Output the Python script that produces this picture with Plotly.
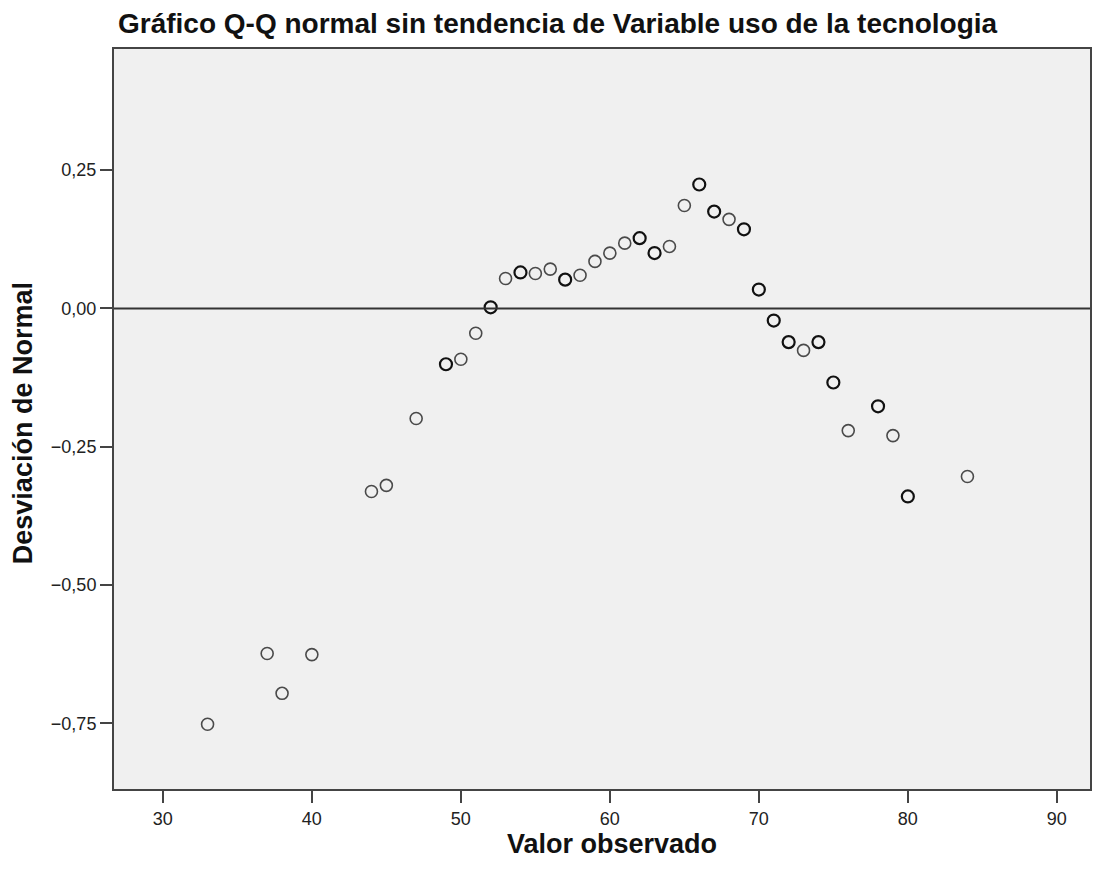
import plotly.graph_objects as go

valor_observado = [33, 37, 38, 40, 44, 45, 47, 49, 50, 51, 52, 53, 54, 55, 56, 57, 58, 59,
                   60, 61, 62, 63, 64, 65, 66, 67, 68, 69, 70, 71, 72, 73, 74, 75, 76, 78,
                   79, 80, 84]
desviacion = [-0.752, -0.624, -0.696, -0.626, -0.331, -0.320, -0.199, -0.101, -0.092,
              -0.045, 0.002, 0.054, 0.065, 0.063, 0.071, 0.052, 0.060, 0.085, 0.100,
              0.118, 0.127, 0.100, 0.112, 0.186, 0.224, 0.175, 0.161, 0.143, 0.034,
              -0.022, -0.061, -0.076, -0.061, -0.134, -0.221, -0.177, -0.230, -0.340,
              -0.304]
# values that appear several times in the sample (drawn darker in the reference)
repetidos = [49, 52, 54, 57, 62, 63, 66, 67, 69, 70, 71, 72, 74, 75, 78, 80]

x_ticks = [30, 40, 50, 60, 70, 80, 90]
y_ticks = [-0.75, -0.50, -0.25, 0.00, 0.25]

line_colors = ["#111111" if v in repetidos else "#4a4a4a" for v in valor_observado]
line_widths = [2.2 if v in repetidos else 1.6 for v in valor_observado]

W, H = 1084, 855
L, T, R, B = 106, 41, 0, 74
PW, PH = W - L - R, H - T - B

fig = go.Figure()
fig.add_trace(go.Scatter(
    x=valor_observado, y=desviacion, mode="markers",
    marker=dict(symbol="circle-open", size=12, color=line_colors,
                line=dict(width=line_widths, color=line_colors)),
    showlegend=False, hoverinfo="x+y"))

fig.add_shape(type="line", xref="paper", x0=0, x1=1, yref="y", y0=0, y1=0,
              line=dict(color="#333333", width=2))

fig.update_layout(
    width=W, height=H,
    margin=dict(l=L, r=R, t=T, b=B),
    paper_bgcolor="white", plot_bgcolor="#f0f0f0",
    separators=",.",
    font=dict(family="Liberation Sans, Arial, sans-serif", color="#222222", size=18),
    title=dict(text="<b>Gráfico Q-Q normal sin tendencia de Variable uso de la tecnologia</b>",
               xref="container", yref="container", x=110 / W, xanchor="left",
               y=1 - 15 / H, yanchor="middle",
               font=dict(family="Liberation Sans, Arial", size=28, color="#111111")),
    xaxis=dict(range=[26.72, 26.72 + PW / 14.93], tickvals=x_ticks, ticks="outside",
               ticklen=12, tickwidth=2, tickcolor="#444444", showgrid=False,
               zeroline=False, showline=True, linecolor="#444444", linewidth=2,
               mirror=True, tickfont=dict(size=18)),
    yaxis=dict(range=[-0.869, 0.469], tickvals=y_ticks, tickformat=".2f", ticks="outside",
               ticklen=12, tickwidth=2, tickcolor="#444444", showgrid=False,
               zeroline=False, showline=True, linecolor="#444444", linewidth=2,
               mirror=True, tickfont=dict(size=18)),
    annotations=[
        dict(text="<b>Valor observado</b>", xref="paper", yref="paper",
             x=(605 - L) / PW, y=-(853 - (T + PH)) / PH, xanchor="center",
             yanchor="bottom", showarrow=False, font=dict(size=27, color="#111111")),
        dict(text="<b>Desviación de Normal</b>", xref="paper", yref="paper",
             x=-(L - 15) / PW, y=(T + PH - 415) / PH, xanchor="center", yanchor="middle",
             textangle=-90, showarrow=False, font=dict(size=27, color="#111111")),
    ],
)

fig.write_html("out.html")
